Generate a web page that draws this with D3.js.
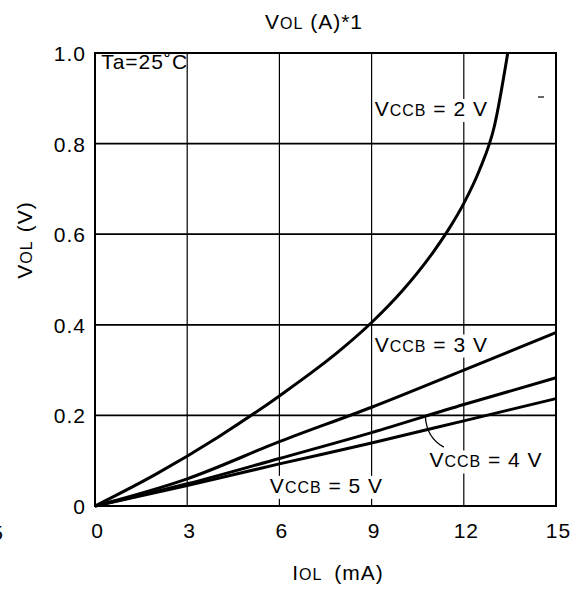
<!DOCTYPE html>
<html>
<head>
<meta charset="utf-8">
<script src="https://cdn.jsdelivr.net/npm/d3@7"></script>
<style>
  body { margin: 0; background: #fff; }
  text { font-family: "Liberation Sans", Arial, sans-serif; fill: #000; font-size: 21px; letter-spacing: 1px; }
</style>
</head>
<body>
<div id="chart"></div>
<script>
/* CONSTANTS AND GLOBALS */
const width = 574,
  height = 592,
  margin = { top: 53, bottom: 86, left: 95, right: 18 };

// axis ticks
const xTicks = [0, 3, 6, 9, 12, 15];
const yTicks = [0, 0.2, 0.4, 0.6, 0.8, 1.0];
const yTickLabels = ["0", "0.2", "0.4", "0.6", "0.8", "1.0"];

// curves, [IOL (mA), VOL (V)]
const vccb2 = [[0, 0], [2, 0.071], [4, 0.152], [6, 0.243], [8, 0.345], [9, 0.405],
  [10, 0.475], [11, 0.56], [11.5, 0.61], [12, 0.668], [12.5, 0.74], [13, 0.84], [13.43, 1.0]];
const vccb3 = [[0, 0], [3, 0.06], [6, 0.142], [9, 0.218], [12, 0.3], [15, 0.383]];
const vccb4 = [[0, 0], [3, 0.049], [6, 0.105], [9, 0.162], [12, 0.224], [15, 0.283]];
const vccb5 = [[0, 0], [3, 0.045], [6, 0.093], [9, 0.139], [12, 0.188], [15, 0.237]];

const allSeries = [vccb2, vccb3, vccb4, vccb5];

let svg, xScale, yScale;

// writes "V" + small "CCB" style labels
function smallCaps(sel, parts) {
  parts.forEach(p => {
    sel.append("tspan")
      .attr("font-size", p[1] ? "16px" : null)
      .attr("dx", p[2] || null)
      .text(p[0]);
  });
  return sel;
}

function init() {
  xScale = d3.scaleLinear()
    .domain([0, 15])
    .range([margin.left, width - margin.right]);

  yScale = d3.scaleLinear()
    .domain([0, 1])
    .range([height - margin.bottom, margin.top]);

  svg = d3.select("#chart")
    .append("svg")
    .attr("width", width)
    .attr("height", height);

  // grid
  const grid = svg.append("g");
  grid.selectAll(".vgrid")
    .data(xTicks.slice(1, -1))
    .join("line")
    .attr("x1", d => xScale(d)).attr("x2", d => xScale(d))
    .attr("y1", yScale(1)).attr("y2", yScale(0))
    .attr("stroke", "#000").attr("stroke-width", 1.2);
  grid.selectAll(".hgrid")
    .data(yTicks.slice(1, -1))
    .join("line")
    .attr("x1", xScale(0)).attr("x2", xScale(15))
    .attr("y1", d => yScale(d)).attr("y2", d => yScale(d))
    .attr("stroke", "#000").attr("stroke-width", 1.8);

  // axes with labels only, frame drawn as rect
  const xAxis = d3.axisBottom(xScale).tickValues(xTicks).tickSize(0).tickPadding(17);
  const yAxis = d3.axisLeft(yScale).tickValues(yTicks).tickSize(0).tickPadding(9)
    .tickFormat((d, i) => yTickLabels[i]);

  svg.append("g")
    .attr("transform", `translate(0, ${yScale(0)})`)
    .call(xAxis)
    .call(g => g.select(".domain").remove())
    .selectAll("text")
    .attr("font-size", "21px")
    .attr("font-family", null)
    .attr("dx", "2");

  svg.append("g")
    .attr("transform", `translate(${xScale(0)}, 0)`)
    .call(yAxis)
    .call(g => g.select(".domain").remove())
    .selectAll("text")
    .attr("font-size", "21px")
    .attr("font-family", null)
    .attr("dy", "0.36em");

  svg.append("rect")
    .attr("x", xScale(0)).attr("y", yScale(1))
    .attr("width", xScale(15) - xScale(0))
    .attr("height", yScale(0) - yScale(1))
    .attr("fill", "none").attr("stroke", "#000").attr("stroke-width", 2);

  // piece of the neighbouring chart's axis, cut by the edge as in the scan
  svg.append("text")
    .attr("x", 4).attr("y", yScale(0) + 34)
    .attr("text-anchor", "end")
    .text("15");

  // title and axis titles
  smallCaps(svg.append("text")
    .attr("x", 314).attr("y", 29)
    .attr("text-anchor", "middle")
    .attr("font-size", "21px"),
    [["V"], ["OL", 1], [" (A)*1"]]);

  smallCaps(svg.append("text")
    .attr("x", 338).attr("y", 580)
    .attr("text-anchor", "middle"),
    [["I"], ["OL", 1], ["(mA)", 0, 12]]);

  smallCaps(svg.append("text")
    .attr("transform", `translate(32, 240) rotate(-90)`)
    .attr("text-anchor", "middle"),
    [["V"], ["OL", 1], ["(V)", 0, 8]]);

  svg.append("text")
    .attr("x", xScale(0.2)).attr("y", yScale(0.965))
    .text("Ta=25˚C");

  // small scan mark near the top right
  svg.append("line")
    .attr("x1", 538).attr("x2", 544)
    .attr("y1", 97).attr("y2", 97)
    .attr("stroke", "#000").attr("stroke-width", 1.2);

  draw();
}

function draw() {
  // curve labels: positions in data units
  const labelSpots = [
    { name: "2", x: 9.1, y: 0.861 },
    { name: "3", x: 9.1, y: 0.341 },
    { name: "4", x: 10.88, y: 0.085 },
    { name: "5", x: 5.69, y: 0.029 }
  ];

  const bgLayer = svg.append("g");

  const line = d3.line()
    .x(d => xScale(d[0]))
    .y(d => yScale(d[1]))
    .curve(d3.curveMonotoneX);

  svg.append("g")
    .selectAll("path")
    .data(allSeries)
    .join("path")
    .attr("d", line)
    .attr("fill", "none")
    .attr("stroke", "#000")
    .attr("stroke-width", 3)
    .attr("stroke-linejoin", "round");

  labelSpots.forEach(s => {
    const t = smallCaps(svg.append("text")
      .attr("x", xScale(s.x)).attr("y", yScale(s.y)),
      [["V"], ["CCB", 1], [` = ${s.name} V`]]);
    const b = t.node().getBBox();
    bgLayer.append("rect")
      .attr("x", b.x - 1).attr("y", b.y + 2)
      .attr("width", b.width + 2).attr("height", b.height)
      .attr("fill", "#fff");
  });

  // leader from the 4 V curve down to its label
  svg.append("path")
    .attr("d", `M${xScale(10.75)},${yScale(0.196)} Q${xScale(10.8)},${yScale(0.15)} ${xScale(11.35)},${yScale(0.13)}`)
    .attr("fill", "none")
    .attr("stroke", "#000")
    .attr("stroke-width", 1.3);
}

init();
</script>
</body>
</html>
